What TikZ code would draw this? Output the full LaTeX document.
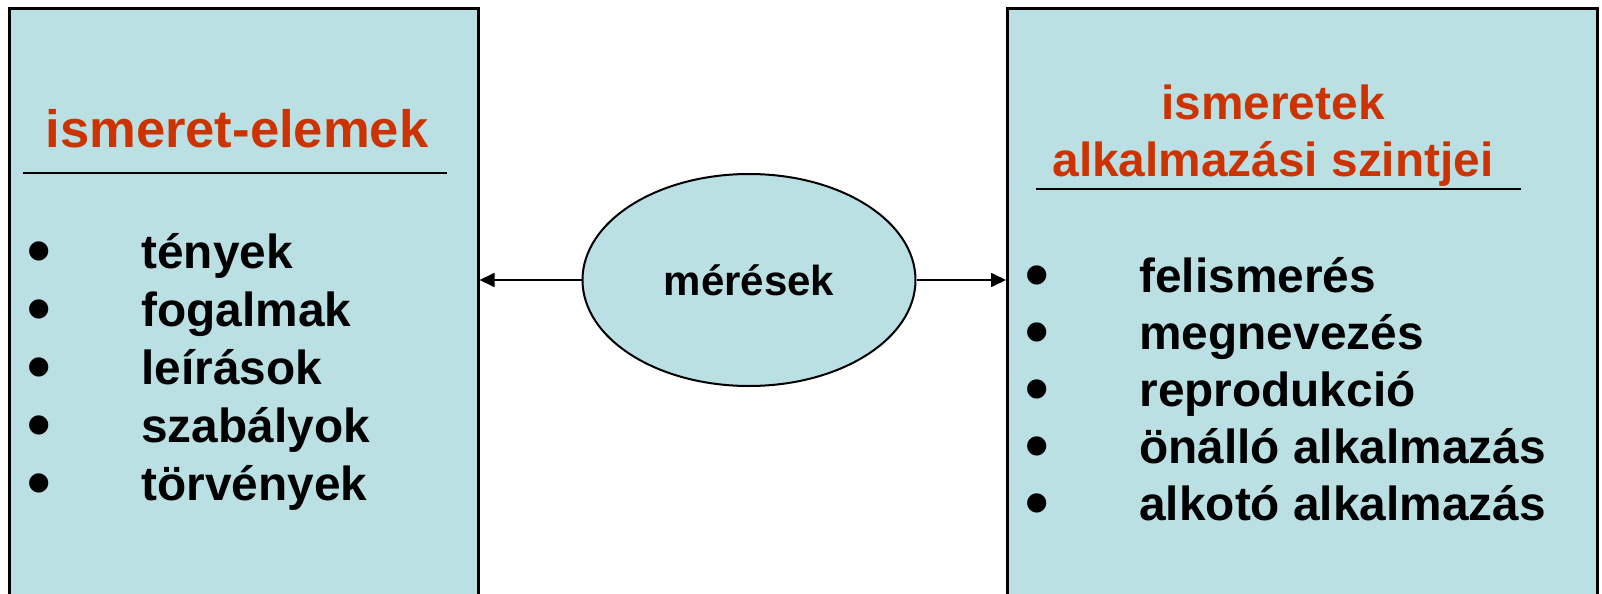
\documentclass[tikz,border=0pt]{standalone}
\usepackage{fontspec}
\setmainfont{Liberation Sans}
\usepackage{tikz}
\usetikzlibrary{positioning}
\usetikzlibrary{shapes.geometric}
\usetikzlibrary{arrows.meta}
\definecolor{panelfill}{HTML}{BBE0E3}
\definecolor{headred}{HTML}{CC3300}
\tikzset{
    knowledge diagram/.style={
            x=0.5pt,y=-0.5pt,
            panel/.style={draw=black,line width=1.25pt,fill=panelfill,anchor=north west,inner sep=0pt},
            heading/.style={text=headred,inner sep=0pt,font=\bfseries\fontsize{23.9pt}{28.5pt}\selectfont},
            entry/.style={inner sep=0pt,anchor=base west,font=\bfseries\fontsize{23.9pt}{28.5pt}\selectfont},
            rule/.style={line width=1pt},
            arrow/.style={-{Triangle[length=7.5pt,width=7pt]},line width=0.9pt}
        }
    }
\newcommand{\pont}[1]{\makebox[57pt][l]{\smash{\raisebox{-2.5pt}{\scalebox{1.4}{\textbullet}}}}#1}

\begin{document}
\begin{tikzpicture}[knowledge diagram]
                \useasboundingbox (0,0) rectangle (1602,594);
                \clip (0,0) rectangle (1602,594);
                \node (elemek) [panel, minimum width=234.5pt, minimum height=320pt] at (8,7) {};
                \node (alk) [panel, minimum width=295pt, minimum height=320pt] at (1006,7) {};
                \node (meres) [ellipse, draw, line width=1pt, fill=panelfill, inner sep=0pt,
                    minimum width=166.5pt, minimum height=106pt,
                    font=\bfseries\fontsize{21pt}{25pt}\selectfont] at (749,280) {mérések};
                % headings
                \node (elemekcim) [heading, anchor=base west, font=\bfseries\fontsize{26.3pt}{30pt}\selectfont] at (45,147) {ismeret-elemek};
                \node (alkcim) [heading, anchor=north, align=center] at (1273,84) {ismeretek\\alkalmazási szintjei};
                \draw [rule] (23,173) -- (447,173);
                \draw [rule] (1036,189) -- (1521,189);
                % left list
                \node (l1) [entry] at (27,268) {\pont{tények}};
                \node (l2) [entry, below=29pt of l1.base west, anchor=base west] {\pont{fogalmak}};
                \node (l3) [entry, below=29pt of l2.base west, anchor=base west] {\pont{leírások}};
                \node (l4) [entry, below=29pt of l3.base west, anchor=base west] {\pont{szabályok}};
                \node (l5) [entry, below=29pt of l4.base west, anchor=base west] {\pont{törvények}};
                % right list
                \node (r1) [entry] at (1025,292) {\pont{felismerés}};
                \node (r2) [entry, below=28.5pt of r1.base west, anchor=base west] {\pont{megnevezés}};
                \node (r3) [entry, below=28.5pt of r2.base west, anchor=base west] {\pont{reprodukció}};
                \node (r4) [entry, below=28.5pt of r3.base west, anchor=base west] {\pont{önálló alkalmazás}};
                \node (r5) [entry, below=28.5pt of r4.base west, anchor=base west] {\pont{alkotó alkalmazás}};
                \draw [arrow] (meres.west) -- (meres.west -| elemek.east);
                \draw [arrow] (meres.east) -- (meres.east -| alk.west);
            \end{tikzpicture}
\end{document}
